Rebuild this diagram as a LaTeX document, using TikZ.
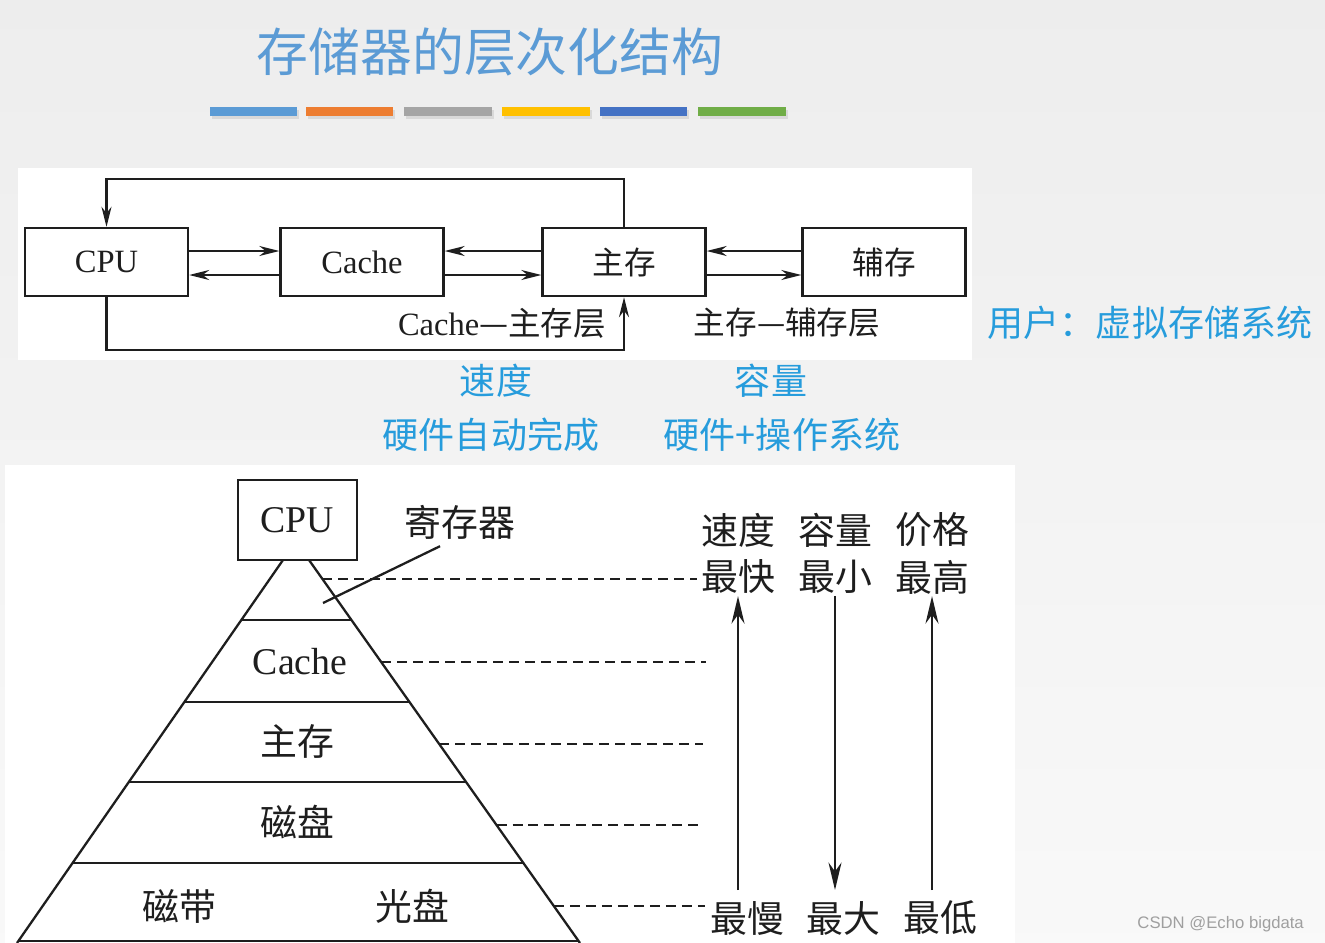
\documentclass[tikz,border=0pt]{standalone}
\usepackage{fontspec}
\setmainfont{Liberation Serif}
\newfontfamily\cjk{Noto Sans CJK SC}
\newfontfamily\wmfont{Liberation Sans}
\usepackage{xcolor}
\usepackage{tikz}
\usetikzlibrary{
    arrows.meta,
    positioning,
    calc
}
\definecolor{titleblue}{RGB}{91,155,213}
\definecolor{noteblue}{RGB}{38,156,220}
\definecolor{barblue}{RGB}{91,155,213}
\definecolor{barorange}{RGB}{237,125,49}
\definecolor{bargray}{RGB}{165,165,165}
\definecolor{baryellow}{RGB}{255,192,0}
\definecolor{bardkblue}{RGB}{68,114,196}
\definecolor{bargreen}{RGB}{112,173,71}
\definecolor{ink}{RGB}{30,30,30}
\tikzstyle{box} = [draw=ink, line width=1.4pt, fill=white, minimum width=3.26cm, minimum height=1.36cm, inner sep=0pt, text=ink, font=\fontsize{18.5}{22}\selectfont]
\tikzstyle{arrow} = [-{Stealth[length=4mm,width=2mm]}, line width=1.3pt, draw=ink]
\tikzstyle{bigarrow} = [-{Stealth[length=5.5mm,width=2.6mm]}, line width=1.3pt, draw=ink]
\tikzstyle{level} = [dash pattern=on 0.2cm off 0.12cm, line width=1.3pt, draw=ink]
\tikzstyle{note} = [text=noteblue, font=\cjk\fontsize{20.5}{24}\selectfont]
\tikzstyle{lbl} = [text=ink, inner sep=1pt, font=\cjk\fontsize{21}{25}\selectfont]
\tikzstyle{small} = [text=ink, font=\fontsize{18.5}{22}\selectfont]

\begin{document}
\begin{tikzpicture}[x=0.02cm, y=-0.02cm]
    % page and white panels
    \shade[top color=gray!14, bottom color=gray!5] (0,0) rectangle (1325,943);
    \useasboundingbox (0,0) rectangle (1325,943);
    \fill[white] (18,168) rectangle (972,360);
    \fill[white] (5,465) rectangle (1015,943);

    % title and colour bars
    \node[text=titleblue, font=\cjk\fontsize{29.5}{34}\selectfont] (title) at (490,52) {存储器的层次化结构};
    \fill[black!15] (212,110) rectangle (299,119);
    \fill[black!15] (308,110) rectangle (395,119);
    \fill[black!15] (406,110) rectangle (494,119);
    \fill[black!15] (504,110) rectangle (592,119);
    \fill[black!15] (602,110) rectangle (689,119);
    \fill[black!15] (700,110) rectangle (788,119);
    \fill[barblue] (210,107) rectangle (297,116);
    \fill[barorange] (306,107) rectangle (393,116);
    \fill[bargray] (404,107) rectangle (492,116);
    \fill[baryellow] (502,107) rectangle (590,116);
    \fill[bardkblue] (600,107) rectangle (687,116);
    \fill[bargreen] (698,107) rectangle (786,116);

    % upper figure
    \node[box] (cpu) at (106.5,262) {CPU};
    \node[box] (cache) at (362,262) {Cache};
    \node[box, font=\cjk\fontsize{18}{22}\selectfont] (zc) at (624,262) {主存};
    \node[box, font=\cjk\fontsize{18}{22}\selectfont] (fc) at (884,262) {辅存};
    \coordinate (hi) at (0,251);
    \coordinate (lo) at (0,275);
    \coordinate (topy) at (0,179);
    \coordinate (boty) at (0,350);
    \draw[arrow] (cpu.east |- hi) -- (cache.west |- hi);
    \draw[arrow] (cache.west |- lo) -- (cpu.east |- lo);
    \draw[arrow] (zc.west |- hi) -- (cache.east |- hi);
    \draw[arrow] (cache.east |- lo) -- (zc.west |- lo);
    \draw[arrow] (fc.west |- hi) -- (zc.east |- hi);
    \draw[arrow] (zc.east |- lo) -- (fc.west |- lo);
    \draw[arrow] (zc.north) -- (zc.north |- topy) -- (cpu.north |- topy) -- (cpu.north);
    \draw[arrow] (cpu.south) -- (cpu.south |- boty) -- (zc.south |- boty) -- (zc.south);
    \node[small, anchor=east] (layer1) at (612,323) {Cache{\cjk —主存层}};
    \node[small, font=\cjk\fontsize{18}{22}\selectfont] (layer2) at (787,323) {主存—辅存层};

    % blue notes
    \node[note] (user) at (1150,323) {用户：虚拟存储系统};
    \node[note] (speed) at (496,381) {速度};
    \node[note] (size) at (771,381) {容量};
    \node[note] (hw) at (491,435) {硬件自动完成};
    \node[note] (hwos) at (782,435) {硬件+操作系统};

    % pyramid
    \coordinate (tl) at (283,560);
    \coordinate (tr) at (309,560);
    \coordinate (bl) at (17,943);
    \coordinate (br) at (580,943);
    \draw[line width=1.3pt, ink] (tl) -- (bl);
    \draw[line width=1.3pt, ink] (tr) -- (br);
    \draw[line width=1.3pt, ink] (241.3,620) -- (351.5,620);
    \draw[line width=1.3pt, ink] (184.4,702) -- (409.5,702);
    \draw[line width=1.3pt, ink] (128.8,782) -- (466.1,782);
    \draw[line width=1.3pt, ink] (72.6,863) -- (523.4,863);
    \draw[line width=1.3pt, ink] (18.4,941) -- (578.6,941);
    \node[box, minimum width=2.38cm, minimum height=1.6cm, font=\fontsize{21.5}{25}\selectfont] (pcpu) at (297.5,520) {CPU};
    \node[lbl] (reg) at (460,522) {寄存器};
    \coordinate (regpt) at (323,603);
    \draw[line width=1.3pt, ink] ($(reg.south)+(-20,5)$) -- (regpt);
    \node[lbl, font=\fontsize{21.5}{25}\selectfont] (pcache) at (300,662) {Cache};
    \node[lbl] (pmain) at (297,741) {主存};
    \node[lbl] (pdisk) at (297,822) {磁盘};
    \node[lbl] (ptape) at (179,906) {磁带};
    \node[lbl] (pcd) at (412,906) {光盘};

    % dashed level lines
    \draw[level] (322.4,579) -- (697,579);
    \draw[level] (381.2,662) -- (706,662);
    \draw[level] (439.2,744) -- (703,744);
    \draw[level] (496.5,825) -- (700,825);
    \draw[level] (553.8,906) -- (705,906);

    % speed, capacity, price
    \node[lbl] (sd) at (738,530) {速度};
    \node[lbl] (rl) at (835,530) {容量};
    \node[lbl] (jg) at (932,530) {价格};
    \node[lbl] (zk) at (738,577) {最快};
    \node[lbl] (zx) at (835,577) {最小};
    \node[lbl] (zg) at (932,577) {最高};
    \node[lbl] (zm) at (747,918) {最慢};
    \node[lbl] (zd) at (843,918) {最大};
    \node[lbl] (zdi) at (940,918) {最低};
    \coordinate (abot) at (0,890);
    \draw[bigarrow] (zk.south |- abot) -- (zk.south);
    \draw[bigarrow] (zx.south) -- (zx.south |- abot);
    \draw[bigarrow] (zg.south |- abot) -- (zg.south);

    % watermark
    \node[text=gray!75, font=\wmfont\fontsize{9.5}{11}\selectfont, anchor=east] (mark) at (1310,924) {CSDN @Echo bigdata};
\end{tikzpicture}
\end{document}
